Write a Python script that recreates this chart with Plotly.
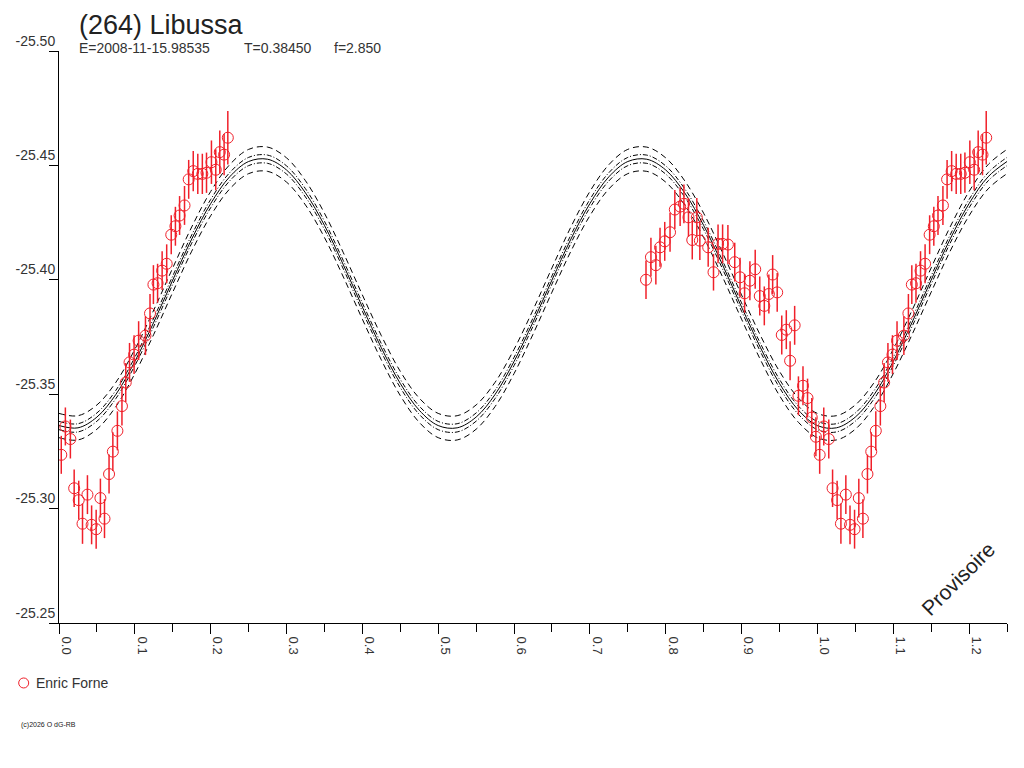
import plotly.graph_objects as go

# ---------------- data ----------------
OBS_PHASE = [0.003, 0.0084, 0.015, 0.020, 0.026, 0.031, 0.0375, 0.043, 0.049, 0.0546,
             0.060, 0.066, 0.071, 0.077, 0.083, 0.088, 0.093, 0.099, 0.105, 0.114,
             0.120, 0.1245, 0.130, 0.136, 0.142, 0.148, 0.1535, 0.159, 0.1655, 0.171,
             0.177, 0.183, 0.189, 0.1945, 0.201, 0.2067, 0.212, 0.2177, 0.2226,
             0.774, 0.7805, 0.787, 0.7925, 0.7987, 0.8057, 0.812, 0.819, 0.824, 0.830,
             0.835, 0.841, 0.845, 0.856, 0.863, 0.869, 0.875, 0.882, 0.891, 0.898,
             0.904, 0.911, 0.918, 0.924, 0.930, 0.936, 0.941, 0.947, 0.953, 0.959,
             0.964, 0.970, 0.975, 0.981, 0.987, 0.9926, 0.998]
OBS_MAG = [-25.3235, -25.3359, -25.3304, -25.3089, -25.3037, -25.2934, -25.3061, -25.2929, -25.2910, -25.3046,
           -25.2956, -25.3151, -25.3249, -25.3340, -25.3448, -25.3551, -25.3639, -25.3673, -25.3734, -25.3756,
           -25.3853, -25.3979, -25.3985, -25.4040, -25.4070, -25.4197, -25.4234, -25.4281, -25.4325, -25.4439,
           -25.4475, -25.4463, -25.4463, -25.4468, -25.4514, -25.4481, -25.4558, -25.4547, -25.4621,
           -25.4000, -25.4099, -25.4064, -25.4142, -25.4168, -25.4208, -25.4307, -25.4320, -25.4332, -25.4273,
           -25.4174, -25.4273, -25.4171, -25.4142, -25.4033, -25.4157, -25.4157, -25.4154, -25.4077, -25.4011,
           -25.3941, -25.3996, -25.4046, -25.3929, -25.3886, -25.3938, -25.4023, -25.3945, -25.3759, -25.3782,
           -25.3646, -25.3801, -25.3493, -25.3537, -25.3483, -25.3398, -25.3314]
OBS_ERR = [0.0083, 0.0083, 0.0085, 0.0082, 0.0085, 0.0088, 0.0085, 0.0085, 0.0085, 0.0085,
           0.0085, 0.0085, 0.0085, 0.0085, 0.0085, 0.0085, 0.0085, 0.0085, 0.0085, 0.0085,
           0.0085, 0.0085, 0.0085, 0.0085, 0.0085, 0.0085, 0.0085, 0.0085, 0.0085, 0.0085,
           0.0088, 0.0088, 0.0088, 0.0088, 0.0095, 0.0090, 0.0095, 0.0090, 0.0117,
           0.0084, 0.0085, 0.0085, 0.0085, 0.0085, 0.0085, 0.0085, 0.0085, 0.0085, 0.0085,
           0.0085, 0.0085, 0.0085, 0.0085, 0.0080, 0.0085, 0.0085, 0.0085, 0.0085, 0.0085,
           0.0085, 0.0085, 0.0085, 0.0085, 0.0085, 0.0085, 0.0085, 0.0085, 0.0085, 0.0085,
           0.0085, 0.0085, 0.0085, 0.0085, 0.0085, 0.0085, 0.0085]

MODEL_PHASE = [round(i * 0.025, 3) for i in range(51)]
MODEL_MAG = [-25.3363, -25.3353, -25.3400, -25.3499, -25.3643, -25.3815, -25.3999, -25.4178, -25.4333, -25.4450,
             -25.4517, -25.4527, -25.4480, -25.4380, -25.4238, -25.4065, -25.3881, -25.3703, -25.3547, -25.3430,
             -25.3363, -25.3353, -25.3400, -25.3499, -25.3643, -25.3815, -25.3999, -25.4178, -25.4333, -25.4450,
             -25.4517, -25.4527, -25.4480, -25.4380, -25.4238, -25.4065, -25.3881, -25.3703, -25.3547, -25.3430,
             -25.3363, -25.3353, -25.3400, -25.3499, -25.3643, -25.3815, -25.3999, -25.4178, -25.4333, -25.4450,
             -25.4517]
BAND_OFFSETS = [-0.0053, -0.0018, 0.0, 0.0018, 0.0053]
BAND_DASH = ["6px,4px", "5px,2px,1px,2px", "solid", "5px,2px,1px,2px", "6px,4px"]

Y_TICKS = [-25.50, -25.45, -25.40, -25.35, -25.30, -25.25]
X_TICKS = [0.0, 0.1, 0.2, 0.3, 0.4, 0.5, 0.6, 0.7, 0.8, 0.9, 1.0, 1.1, 1.2]

TITLE = "(264) Libussa"
INFO = ["E=2008-11-15.98535", "T=0.38450", "f=2.850"]
OBSERVER = "Enric Forne"

# ---------------- figure ----------------
FONT = "Liberation Sans, Arial, sans-serif"
OFF = 8  # page body margin
W, H = 1024 - OFF, 768 - OFF
L, R, T, B = 59.3 - OFF, 1007.0 - OFF, 50.7 - OFF, 623.0 - OFF
RED = "#f0202a"


def fx(px):
    return (px - OFF - L) / (R - L)


def fy(py):
    return (B - (py - OFF)) / (B - T)


fig = go.Figure()

for off, dash in zip(BAND_OFFSETS, BAND_DASH):
    fig.add_trace(go.Scatter(
        x=MODEL_PHASE, y=[m + off for m in MODEL_MAG], mode="lines",
        line=dict(color="black", width=1, dash=dash, shape="spline"),
        showlegend=False, hoverinfo="skip"))

# observations, repeated one cycle later where they fit in the window
px_all, py_all, pe_all = [], [], []
for p, m, e in zip(OBS_PHASE, OBS_MAG, OBS_ERR):
    px_all.append(p); py_all.append(m); pe_all.append(e)
    if p + 1 <= 1.25:
        px_all.append(p + 1); py_all.append(m); pe_all.append(e)

fig.add_trace(go.Scatter(
    x=px_all, y=py_all, mode="markers", name=OBSERVER,
    marker=dict(symbol="circle-open", size=11, color=RED, line=dict(width=1, color=RED)),
    error_y=dict(type="data", array=pe_all, visible=True, color=RED, thickness=1.5, width=0),
    showlegend=False))

fig.update_layout(
    width=W, height=H,
    margin=dict(l=L, r=W - R, t=T, b=H - B, pad=0, autoexpand=False),
    paper_bgcolor="white", plot_bgcolor="white",
    font=dict(family=FONT, size=13, color="#333333"),
    showlegend=False,
    xaxis=dict(range=[0, 1.25], tickvals=X_TICKS, ticktext=[f"{v:.1f}" for v in X_TICKS],
               tickangle=90, ticks="outside", ticklen=10, tickcolor="black", tickwidth=1,
               ticklabelposition="outside", ticklabelshift=7, automargin=False,
               showline=True, linecolor="black", linewidth=1, showgrid=False, zeroline=False,
               tickfont=dict(size=13, color="#333333"),
               minor=dict(dtick=0.05, tick0=0, ticks="outside", ticklen=8, tickcolor="black", showgrid=False)),
    yaxis=dict(range=[-25.25, -25.50], tickvals=Y_TICKS, ticktext=[f"{v:.2f}" for v in Y_TICKS],
               ticks="outside", ticklen=9, tickcolor="black", tickwidth=1,
               ticklabelposition="outside top", automargin=False,
               showline=True, linecolor="black", linewidth=1, showgrid=False, zeroline=False,
               tickfont=dict(size=14, color="#333333")),
)

ann = [
    dict(text=TITLE, x=fx(77), y=fy(25), xanchor="left", yanchor="middle",
         font=dict(size=27, color="#222222")),
    dict(text=INFO[0], x=fx(77), y=fy(48), xanchor="left", yanchor="middle",
         font=dict(size=14, color="#333333")),
    dict(text=INFO[1], x=fx(242), y=fy(48), xanchor="left", yanchor="middle",
         font=dict(size=14, color="#333333")),
    dict(text=INFO[2], x=fx(332), y=fy(48), xanchor="left", yanchor="middle",
         font=dict(size=14, color="#333333")),
    dict(text="Provisoire", x=fx(958), y=fy(578), xanchor="center", yanchor="middle",
         textangle=-45, font=dict(size=21, color="#222222")),
    dict(text=OBSERVER, x=fx(34), y=fy(683), xanchor="left", yanchor="middle",
         font=dict(size=14, color="#333333")),
    dict(text="(c)2026 O dG-RB", x=fx(19), y=fy(725), xanchor="left", yanchor="middle",
         font=dict(size=7, color="#222222")),
]
for a in ann:
    a.update(xref="paper", yref="paper", showarrow=False)
fig.update_layout(annotations=ann)

# legend symbol for the observer
fig.add_shape(type="circle", xref="paper", yref="paper",
              x0=fx(19), x1=fx(29), y0=fy(688), y1=fy(678),
              line=dict(color=RED, width=1))

fig.write_html("out.html")
